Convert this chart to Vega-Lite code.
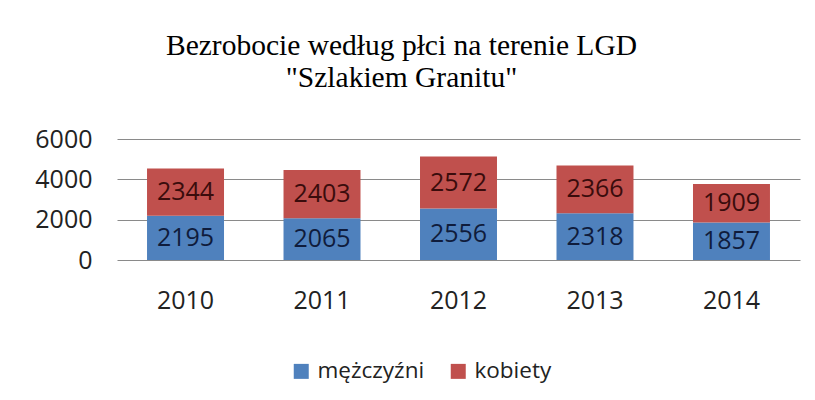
{
  "$schema": "https://vega.github.io/schema/vega-lite/v6.json",
  "autosize": {"type": "none"},
  "width": 683,
  "height": 121,
  "padding": {"left": 117, "top": 139, "right": 15, "bottom": 140},
  "background": "white",
  "title": {
    "text": ["Bezrobocie według płci na terenie LGD", "\"Szlakiem Granitu\""],
    "font": "Liberation Serif",
    "fontSize": 29.5,
    "fontWeight": "normal",
    "color": "#000000",
    "anchor": "middle",
    "lineHeight": 32,
    "offset": 34,
    "dx": -57
  },
  "data": {
    "values": [
      {"year": "2010", "gender": "mężczyźni", "order": 1, "value": 2195},
      {"year": "2010", "gender": "kobiety", "order": 2, "value": 2344},
      {"year": "2011", "gender": "mężczyźni", "order": 1, "value": 2065},
      {"year": "2011", "gender": "kobiety", "order": 2, "value": 2403},
      {"year": "2012", "gender": "mężczyźni", "order": 1, "value": 2556},
      {"year": "2012", "gender": "kobiety", "order": 2, "value": 2572},
      {"year": "2013", "gender": "mężczyźni", "order": 1, "value": 2318},
      {"year": "2013", "gender": "kobiety", "order": 2, "value": 2366},
      {"year": "2014", "gender": "mężczyźni", "order": 1, "value": 1857},
      {"year": "2014", "gender": "kobiety", "order": 2, "value": 1909}
    ]
  },
  "transform": [
    {"stack": "value", "groupby": ["year"], "sort": [{"field": "order", "order": "ascending"}], "as": ["v0", "v1"]},
    {"calculate": "(datum.v0 + datum.v1) / 2", "as": "vmid"}
  ],
  "encoding": {
    "x": {
      "field": "year",
      "type": "ordinal",
      "scale": {"paddingInner": 0.436, "paddingOuter": 0.22},
      "axis": {
        "title": null,
        "domain": false,
        "ticks": false,
        "labelAngle": 0,
        "labelFont": "Open Sans",
        "labelFontSize": 25,
        "labelColor": "#222222",
        "labelPadding": 28
      }
    }
  },
  "layer": [
    {
      "mark": {"type": "bar"},
      "encoding": {
        "y": {
          "field": "v0",
          "type": "quantitative",
          "scale": {"domain": [0, 6000], "nice": false},
          "axis": {
            "title": null,
            "values": [0, 2000, 4000, 6000],
            "format": "d",
            "domain": false,
            "ticks": false,
            "grid": true,
            "gridColor": "#8a8a8a",
            "gridWidth": 1,
            "labelFont": "Open Sans",
            "labelFontSize": 25,
            "labelColor": "#222222",
            "labelPadding": 25
          }
        },
        "y2": {"field": "v1"},
        "color": {
          "field": "gender",
          "type": "nominal",
          "scale": {"domain": ["mężczyźni", "kobiety"], "range": ["#4F81BD", "#C0504D"]},
          "legend": {
            "title": null,
            "orient": "none",
            "direction": "horizontal",
            "legendX": 173,
            "legendY": 221,
            "symbolType": "square",
            "symbolSize": 225,
            "symbolStrokeWidth": 0,
            "symbolOpacity": 1,
            "labelFont": "Open Sans",
            "labelFontSize": 22.5,
            "labelColor": "#222222",
            "labelOffset": 5,
            "columnPadding": 22
          }
        }
      }
    },
    {
      "mark": {"type": "text", "font": "Open Sans", "fontSize": 25, "baseline": "middle", "align": "center"},
      "encoding": {
        "y": {"field": "vmid", "type": "quantitative"},
        "text": {"field": "value", "type": "quantitative", "format": "d"},
        "color": {
          "field": "gender",
          "type": "nominal",
          "scale": {"domain": ["mężczyźni", "kobiety"], "range": ["#0f1c3c", "#3a0c0c"]},
          "legend": null
        }
      }
    }
  ],
  "resolve": {"scale": {"color": "independent"}},
  "config": {"view": {"stroke": null}}
}
